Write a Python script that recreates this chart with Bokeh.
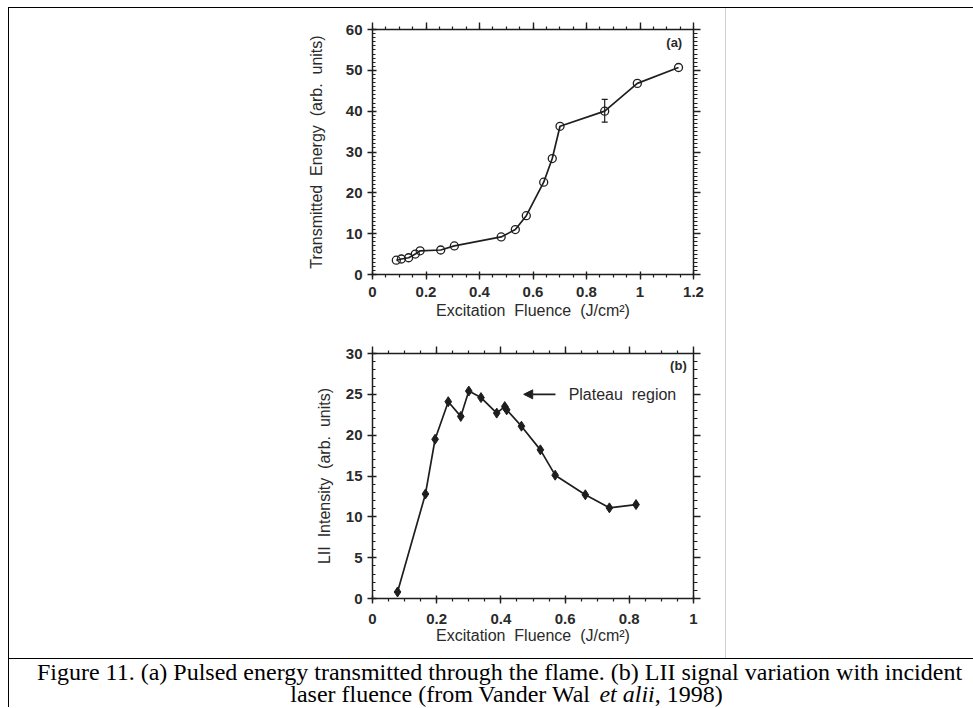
from bokeh.plotting import figure
from bokeh.layouts import column, row
from bokeh.models import (Range1d, LinearAxis, FixedTicker, NumeralTickFormatter,
                          CustomJSTickFormatter, Whisker, ColumnDataSource, Arrow,
                          NormalHead, TeeHead, Spacer, Label)
from bokeh.embed import file_html
from bokeh.resources import INLINE

# ---------------- data ----------------
# panel (a): transmitted energy vs excitation fluence
a_fluence = [0.089, 0.108, 0.135, 0.160, 0.178, 0.255, 0.306, 0.481, 0.534,
             0.575, 0.640, 0.672, 0.701, 0.868, 0.990, 1.144]
a_energy = [3.5, 3.8, 4.1, 5.0, 5.8, 6.0, 7.0, 9.2, 11.0,
            14.4, 22.6, 28.4, 36.3, 40.0, 46.8, 50.7]
a_err_fluence = [0.868]
a_err_low = [37.3]
a_err_high = [42.9]

# panel (b): LII intensity vs excitation fluence
b_fluence = [0.078, 0.165, 0.195, 0.236, 0.275, 0.300, 0.338, 0.387, 0.412,
             0.418, 0.464, 0.523, 0.569, 0.663, 0.738, 0.821]
b_lii = [0.8, 12.8, 19.5, 24.1, 22.3, 25.4, 24.6, 22.7, 23.5,
         23.1, 21.1, 18.2, 15.1, 12.7, 11.1, 11.5]

a_x_ticks = [0, 0.2, 0.4, 0.6, 0.8, 1.0, 1.2]
a_y_ticks = [0, 10, 20, 30, 40, 50, 60]
b_x_ticks = [0, 0.2, 0.4, 0.6, 0.8, 1.0]
b_y_ticks = [0, 5, 10, 15, 20, 25, 30]

x_title = "Excitation\u00a0 Fluence\u00a0 (J/cm\u00b2)"
a_y_title = "Transmitted\u00a0 Energy\u00a0 (arb.\u00a0 units)"
b_y_title = "LII\u00a0 Intensity\u00a0 (arb.\u00a0 units)"
caption_1 = "Figure 11. (a) Pulsed energy transmitted through the flame. (b) LII signal variation with incident"
caption_2a = "laser fluence (from Vander Wal"
caption_2b = "et alii"
caption_2c = ", 1998)"

INK = "#1e1e1e"
SANS = "Liberation Sans"


def minor_list(end, step):
    n = int(round(end / step))
    return [round(i * step, 4) for i in range(n + 1)]


def style_axis(ax, t_in, t_out, m_in, m_out):
    ax.axis_line_color = INK
    ax.axis_line_width = 1.5
    ax.major_tick_line_color = INK
    ax.major_tick_line_width = 1.4
    ax.minor_tick_line_color = INK
    ax.minor_tick_line_width = 1.2
    ax.major_tick_in = t_in
    ax.major_tick_out = t_out
    ax.minor_tick_in = m_in
    ax.minor_tick_out = m_out
    ax.major_label_text_font = SANS
    ax.major_label_text_font_size = "15px"
    ax.major_label_text_font_style = "bold"
    ax.major_label_text_color = "#2a2a2a"
    ax.axis_label_text_font = SANS
    ax.axis_label_text_font_size = "16px"
    ax.axis_label_text_font_style = "normal"
    ax.axis_label_text_color = "#2a2a2a"


def make_panel(w, h, bl, br, bt, bb, xmax, ymax, xt, yt, xstep, ystep,
               ytitle, ytitle_standoff, xtitle_standoff, xlab_standoff):
    p = figure(width=w, height=h, x_range=Range1d(0, xmax), y_range=Range1d(0, ymax),
               output_backend="svg", toolbar_location=None,
               min_border_left=bl, min_border_right=br, min_border_top=bt,
               min_border_bottom=bb)
    p.outline_line_color = None
    p.xgrid.visible = False
    p.ygrid.visible = False
    p.background_fill_color = "white"
    p.border_fill_color = "white"

    xtk = FixedTicker(ticks=xt, minor_ticks=minor_list(xmax, xstep))
    ytk = FixedTicker(ticks=yt, minor_ticks=minor_list(ymax, ystep))

    bx = p.xaxis[0]
    bx.ticker = xtk
    bx.formatter = NumeralTickFormatter(format="0.[0]")
    bx.axis_label = x_title
    style_axis(bx, 3, 5, 0, 3)
    bx.major_label_standoff = xlab_standoff
    bx.axis_label_standoff = xtitle_standoff

    ly = p.yaxis[0]
    ly.ticker = ytk
    ly.formatter = NumeralTickFormatter(format="0")
    ly.axis_label = ytitle
    style_axis(ly, 4, 5, 3, 0)
    ly.major_label_standoff = 5
    ly.axis_label_standoff = ytitle_standoff

    empty = CustomJSTickFormatter(code="return ''")
    top = LinearAxis(ticker=xtk, formatter=empty)
    style_axis(top, 0, 7, 0, 3)
    p.add_layout(top, "above")
    right = LinearAxis(ticker=ytk, formatter=empty)
    style_axis(right, 0, 7, 0, 4)
    p.add_layout(right, "right")
    return p


# ---------------- panel (a) ----------------
pa = make_panel(716, 325, 362, 31, 21, 59, 1.2, 60, a_x_ticks, a_y_ticks, 0.05, 1,
                a_y_title, 18, 2, 7)
pa.line(a_fluence, a_energy, line_color=INK, line_width=1.7)
pa.scatter(a_fluence, a_energy, marker="circle", size=8, fill_color=None,
           line_color=INK, line_width=1.3)
err_src = ColumnDataSource(dict(x=a_err_fluence, lower=a_err_low, upper=a_err_high))
pa.add_layout(Whisker(source=err_src, base="x", lower="lower", upper="upper",
                      line_color=INK, line_width=1.2,
                      upper_head=TeeHead(size=6, line_color=INK, line_width=1.2),
                      lower_head=TeeHead(size=6, line_color=INK, line_width=1.2)))
pa.add_layout(Label(x=1.128, y=56.9, text="(a)", text_align="center",
                    text_baseline="middle", text_font=SANS, text_font_size="13px",
                    text_font_style="bold", text_color="#2a2a2a"))

# ---------------- panel (b) ----------------
pb = make_panel(716, 325, 363, 32, 20, 60, 1.0, 30, b_x_ticks, b_y_ticks, 0.05, 1,
                b_y_title, 10, 0, 10)
pb.line(b_fluence, b_lii, line_color=INK, line_width=1.7)
pb.scatter(b_fluence, b_lii, marker="diamond", size=10, fill_color=INK,
           line_color=INK, line_width=1)
pb.add_layout(Arrow(end=NormalHead(size=9, fill_color=INK, line_color=INK),
                    x_start=0.57, y_start=25.0, x_end=0.471, y_end=25.0,
                    line_color=INK, line_width=1.6))
pb.add_layout(Label(x=0.611, y=25.0, text="Plateau\u00a0 region", text_align="left",
                    text_baseline="middle", text_font=SANS, text_font_size="16px",
                    text_color="#2a2a2a"))
pb.add_layout(Label(x=0.953, y=28.5, text="(b)", text_align="center",
                    text_baseline="middle", text_font=SANS, text_font_size="13px",
                    text_font_style="bold", text_color="#2a2a2a"))

# ---------------- caption ----------------
pc = figure(width=964, height=48, x_range=Range1d(0, 964), y_range=Range1d(48, 0),
            output_backend="svg", toolbar_location=None,
            min_border_left=0, min_border_right=0, min_border_top=0, min_border_bottom=0,
            x_axis_location=None, y_axis_location=None)
pc.outline_line_color = None
pc.xgrid.visible = False
pc.ygrid.visible = False
CAP_FONT = "Liberation Serif"
CAP_SIZE = 24
pc.add_layout(Label(x=490, y=12, text=caption_1, text_align="center", text_baseline="middle",
                    text_font=CAP_FONT, text_font_size=f"{CAP_SIZE}px", text_color="black"))
em = CAP_SIZE
w2a = 12.967 * em - 2
w2b = 2.306 * em
w2c = 2.833 * em
x2 = 497 - (w2a + w2b + w2c) / 2
y2 = 34
pc.add_layout(Label(x=x2, y=y2, text=caption_2a, text_align="left", text_baseline="middle",
                    text_font=CAP_FONT, text_font_size=f"{CAP_SIZE}px", text_color="black"))
pc.add_layout(Label(x=x2 + w2a, y=y2, text=caption_2b, text_align="left",
                    text_baseline="middle", text_font=CAP_FONT,
                    text_font_size=f"{CAP_SIZE}px", text_font_style="italic",
                    text_color="black"))
pc.add_layout(Label(x=x2 + w2a + w2b, y=y2, text=caption_2c, text_align="left",
                    text_baseline="middle", text_font=CAP_FONT,
                    text_font_size=f"{CAP_SIZE}px", text_color="black"))


def bar(w, h, color):
    return Spacer(width=w, height=h, styles={"background-color": color})


body = column(
    bar(965, 1, "black"),
    row(bar(1, 650, "black"), column(pa, pb), bar(1, 650, "#cfcfcf"), Spacer(width=247, height=650)),
    bar(965, 1, "black"),
    row(bar(1, 48, "black"), pc),
)
layout = column(Spacer(width=973, height=7), row(Spacer(width=8, height=700), body))

open("out.html", "w").write(file_html(layout, INLINE))
